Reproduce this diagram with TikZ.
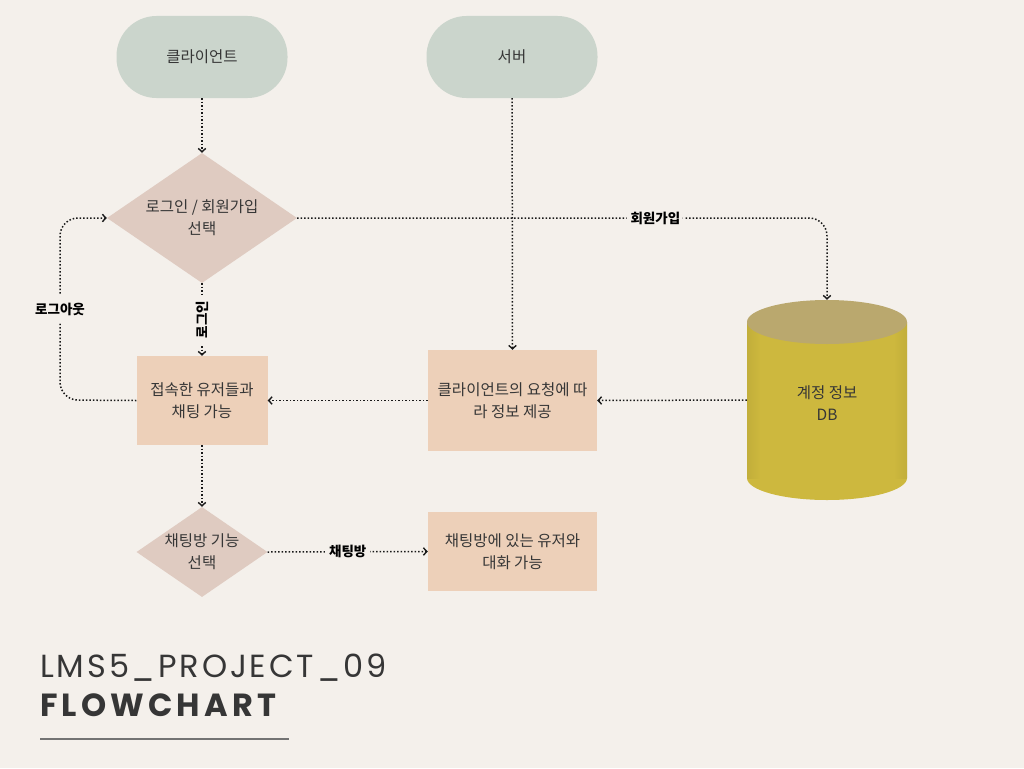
\documentclass[tikz,border=0pt]{standalone}
\usepackage{fontspec}
\usetikzlibrary{shapes.geometric,arrows.meta}
\newfontfamily\kr{Noto Sans CJK KR}
\newfontfamily\ttlfont{Poppins}[LetterSpace=9]
\newfontfamily\ttlbold{Poppins Bold}[LetterSpace=13]
\definecolor{bg}{HTML}{F4F0EB}
\definecolor{term}{HTML}{CBD5CC}
\definecolor{dia}{HTML}{DFCBC1}
\definecolor{boxc}{HTML}{EDD0B9}
\definecolor{cylbody}{HTML}{CDB83E}
\definecolor{cyltop}{HTML}{BAA86E}
\definecolor{txt}{HTML}{363636}
\tikzset{
  every node/.style={text=txt},
  termnode/.style={rectangle, rounded corners=40pt, fill=term, minimum width=171pt, minimum height=82pt, inner sep=0pt},
  dianode/.style={diamond, fill=dia, inner sep=0pt},
  boxnode/.style={rectangle, fill=boxc, inner sep=0pt},
  lbl/.style={font=\kr\fontsize{15.5}{22}\selectfont, align=center},
  elbl/.style={font=\kr\bfseries\fontsize{13.5}{15}\selectfont, fill=bg, inner sep=4pt, text=black},
  flow/.style={draw=black!90, line width=1.5pt, dash pattern=on 1.5pt off 2pt,
    -{Straight Barb[length=3.5pt,width=7.5pt,line width=1.4pt]}},
}
\begin{document}
\begin{tikzpicture}[x=1pt,y=-1pt]
\useasboundingbox (0,0) rectangle (1024,768);
\fill[bg] (0,0) rectangle (1024,768);

% terminals
\node[termnode, lbl] (client) at (202,57) {클라이언트};
\node[termnode, lbl] (server) at (512,57) {서버};

% diamond 1
\node[dianode, minimum width=190pt, minimum height=130pt] (d1) at (202,218) {};
\node[lbl] (d1t) at (d1) {로그인 / 회원가입\\선택};

% box chat
\node[boxnode, minimum width=131pt, minimum height=89pt, lbl] (b1) at (202,400.5) {접속한 유저들과\\채팅 가능};

% box request
\node[boxnode, minimum width=169pt, minimum height=101pt, lbl] (b2) at (512.5,400.5) {클라이언트의 요청에 따\\라 정보 제공};

% cylinder
\fill[cylbody] (747,322) -- (747,478) arc[start angle=180, end angle=360, x radius=80, y radius=-22] -- (907,322) -- cycle;
\shade[left color=cylbody!80!black, right color=cylbody, opacity=0.25] (747,322) rectangle (760,478);
\shade[left color=cylbody, right color=cylbody!80!black, opacity=0.25] (894,322) rectangle (907,478);
\fill[cyltop] (827,322) ellipse[x radius=80, y radius=22];
\node[minimum width=160pt, minimum height=200pt, inner sep=0pt] (db) at (827,400) {};
\node[lbl] (dbt) at (827,403) {계정 정보\\DB};

% diamond 2
\node[dianode, minimum width=131pt, minimum height=90pt] (d2) at (202,552) {};
\node[lbl] (d2t) at (d2) {채팅방 기능\\선택};

% box chatroom
\node[boxnode, minimum width=169pt, minimum height=79pt, lbl] (b3) at (512.5,551.5) {채팅방에 있는 유저와\\대화 가능};

% connectors
\draw[flow] (client) -- (d1.north);
\draw[flow] (server) -- (b2.north);
\draw[flow, rounded corners=18pt] (d1.east) -| node[pos=0.338, elbl] {회원가입} (db.north);
\draw[flow] (d1.south) -- node[elbl, rotate=90, inner sep=6pt] {로그인} (b1.north);
\coordinate (lo1) at (60,400);
\coordinate (lo2) at (60,218);
\draw[flow, rounded corners=18pt] (b1.west) -- (lo1) -- node[elbl, inner sep=8pt] {로그아웃} (lo2) -- (d1.west);
\draw[flow] (b2.west) -- (b1.east);
\draw[flow] (db.west) -- (b2.east);
\draw[flow] (b1.south) -- (d2.north);
\draw[flow] (d2.east) -- node[elbl] {채팅방} (b3.west);

% title
\node[anchor=base west, inner sep=0pt, font=\ttlfont\fontsize{32}{32}\selectfont, text=txt] (t1) at (40,677) {LMS5\_PROJECT\_09};
\node[anchor=base west, inner sep=0pt, font=\ttlbold\fontsize{32}{32}\selectfont, text=txt] (t2) at (40,716) {FLOWCHART};
\draw[line width=1.5pt, color=black!55] (40,739) -- (289,739);
\end{tikzpicture}
\end{document}
